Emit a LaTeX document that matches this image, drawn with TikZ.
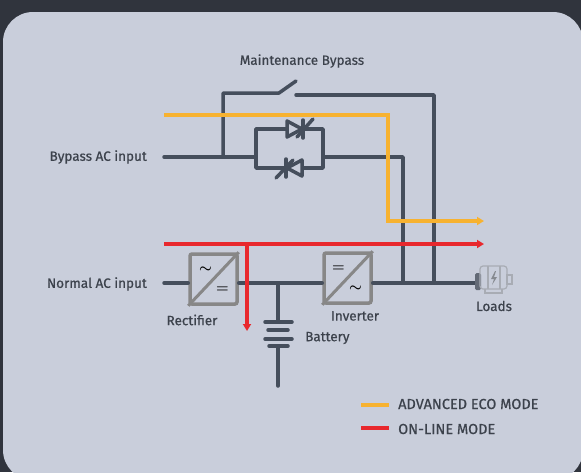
\documentclass[tikz,border=0pt]{standalone}
\usepackage{amsmath,bm}
\usepackage{fontspec}
\setmainfont{Fira Sans}
\newfontface\lblfont{Fira Sans}[FakeBold=0.6]
\usetikzlibrary{arrows.meta,positioning,calc}
\definecolor{darkbg}{RGB}{48,52,61}
\definecolor{panelgrey}{RGB}{201,206,219}
\definecolor{wire}{RGB}{69,78,92}
\definecolor{ecoorange}{RGB}{247,178,48}
\definecolor{onlinered}{RGB}{232,40,45}
\definecolor{boxgrey}{RGB}{135,135,135}
\definecolor{txt}{RGB}{60,66,76}
\definecolor{icongrey}{RGB}{168,172,180}

\begin{document}
\begin{tikzpicture}[x=1pt,y=-1pt,
  wireline/.style={wire, line width=3.5pt, line cap=round, line join=round},
  convbox/.style={draw=boxgrey, line width=3.5pt, rounded corners=2pt, minimum width=47pt, minimum height=50pt, inner sep=0pt},
  lbl/.style={text=txt, inner sep=0pt, font=\lblfont\fontsize{13.5}{15}\selectfont},
  legendlbl/.style={text=txt, inner sep=0pt, font=\lblfont\fontsize{14.5}{16}\selectfont},
  flow/.style={line width=3.5pt, -{Triangle[length=7pt,width=8pt]}}]
\useasboundingbox (0,0) rectangle (581,472);
\fill[darkbg] (0,0) rectangle (581,472);
\fill[panelgrey, rounded corners=30pt] (3,12) rectangle (583,480);

% labels
\draw (302,61) node (mbl) [lbl] {Maintenance Bypass};
\draw (147,157) node (byl) [lbl, anchor=east] {Bypass AC input};
\draw (147,284) node (nol) [lbl, anchor=east] {Normal AC input};
\draw (192,320) node (recl) [lbl] {Rectifier};
\draw (355,316) node (invl) [lbl] {Inverter};
\draw (305,338) node (batl) [lbl, anchor=west] {Battery};
\draw (494,306) node (loadl) [lbl] {Loads};

% bypass branch
\coordinate (byin) at (164,157);
\coordinate (byjoin) at (223,157);
\coordinate (mbtop) at (223,93);
\coordinate (swl) at (279,93);
\coordinate (swtip) at (296,81);
\coordinate (swr) at (296,95);
\coordinate (mbcorner) at (434,95);
\coordinate (mbdown) at (434,283);
\coordinate (scrl) at (256,157);
\coordinate (scrr) at (323,157);
\coordinate (stcorner) at (403,157);
\coordinate (stdown) at (403,283);
\draw[wireline] (byin)--(scrl);
\draw[wireline] (byjoin)--(mbtop)--(swl)--(swtip);
\draw[wireline] (swr)--(mbcorner)--(mbdown);
\draw[wireline] (256,129) rectangle (323,168);
\draw[wireline] (scrr)--(stcorner)--(stdown);
% thyristors
\draw[wireline, fill=panelgrey] (287,121)--(302,129)--(287,137)--cycle;
\draw[wireline] (303,120)--(303,138);
\draw[wireline] (297,137)--(313,119);
\draw[wireline, fill=panelgrey] (302,160)--(287,168)--(302,176)--cycle;
\draw[wireline] (286,159)--(286,177);
\draw[wireline] (276,178)--(293,160);

% normal branch
\coordinate (nin) at (164,283);
\draw (213.5,279) node (rect) [convbox] {};
\draw (347.5,278) node (inv) [convbox] {};
\draw[boxgrey, line width=3pt] (rect.south west)--(rect.north east);
\draw[boxgrey, line width=3pt] (inv.south west)--(inv.north east);
\draw ($(rect.center)+(-8,-9)$) node {\Large$\bm{\sim}$};
\draw ($(rect.center)+(9,11)$) node {\Large$\bm{=}$};
\draw ($(inv.center)+(-9,-9)$) node {\Large$\bm{=}$};
\draw ($(inv.center)+(8,11)$) node {\Large$\bm{\sim}$};
\coordinate (batjoin) at (278,283);
\coordinate (batplus) at (278,322);
\coordinate (batminus) at (278,346);
\coordinate (batend) at (278,386);
\draw[wireline] (nin)--(rect.west |- nin);
\draw[wireline] (rect.east |- nin)--(inv.west |- nin);
\draw[wireline] (batjoin)--(batplus);
\draw[wireline] (265,322)--(292,322);
\draw[wireline] (268,330)--(288,330);
\draw[wireline] (265,339)--(292,339);
\draw[wireline] (269,346)--(288,346);
\draw[wireline] (batminus)--(batend);

% loads
\draw (494,279) node (loads) [minimum width=38pt, minimum height=30pt] {};
\draw[wireline] (inv.east |- nin)--(loads.west |- nin);
\fill[wire!70!icongrey, rounded corners=1.5pt] (475,273) rectangle (481,290);
\draw[icongrey, line width=1.2pt, rounded corners=3pt] (480,266) rectangle (507,289);
\draw[icongrey, line width=1.2pt] (488,266)--(488,289);
\draw[icongrey, line width=1.2pt] (500,266)--(500,289);
\draw[icongrey, line width=1.2pt] (507,275) rectangle (512,284);
\draw[icongrey, line width=1.2pt] (485,289)--(485,293)--(502,293)--(502,289);
\fill[icongrey!80!black] (495,271)--(491,279)--(494,279)--(492,285)--(497,277)--(494,277)--(496,271)--cycle;

% flows
\draw[flow, ecoorange] (164,115)--(388,115)--(388,221)--(484,221);
\draw[flow, onlinered] (164,244)--(484,244);
\draw[flow, onlinered] (247,244)--(247,331);

% legend
\draw[ecoorange, line width=3.5pt] (361,405)--(389,405);
\draw[onlinered, line width=3.5pt] (361,428)--(389,428);
\draw (398,404) node (ecol) [legendlbl, anchor=west] {ADVANCED ECO MODE};
\draw (398,429) node (onl) [legendlbl, anchor=west] {ON-LINE MODE};
\end{tikzpicture}
\end{document}
